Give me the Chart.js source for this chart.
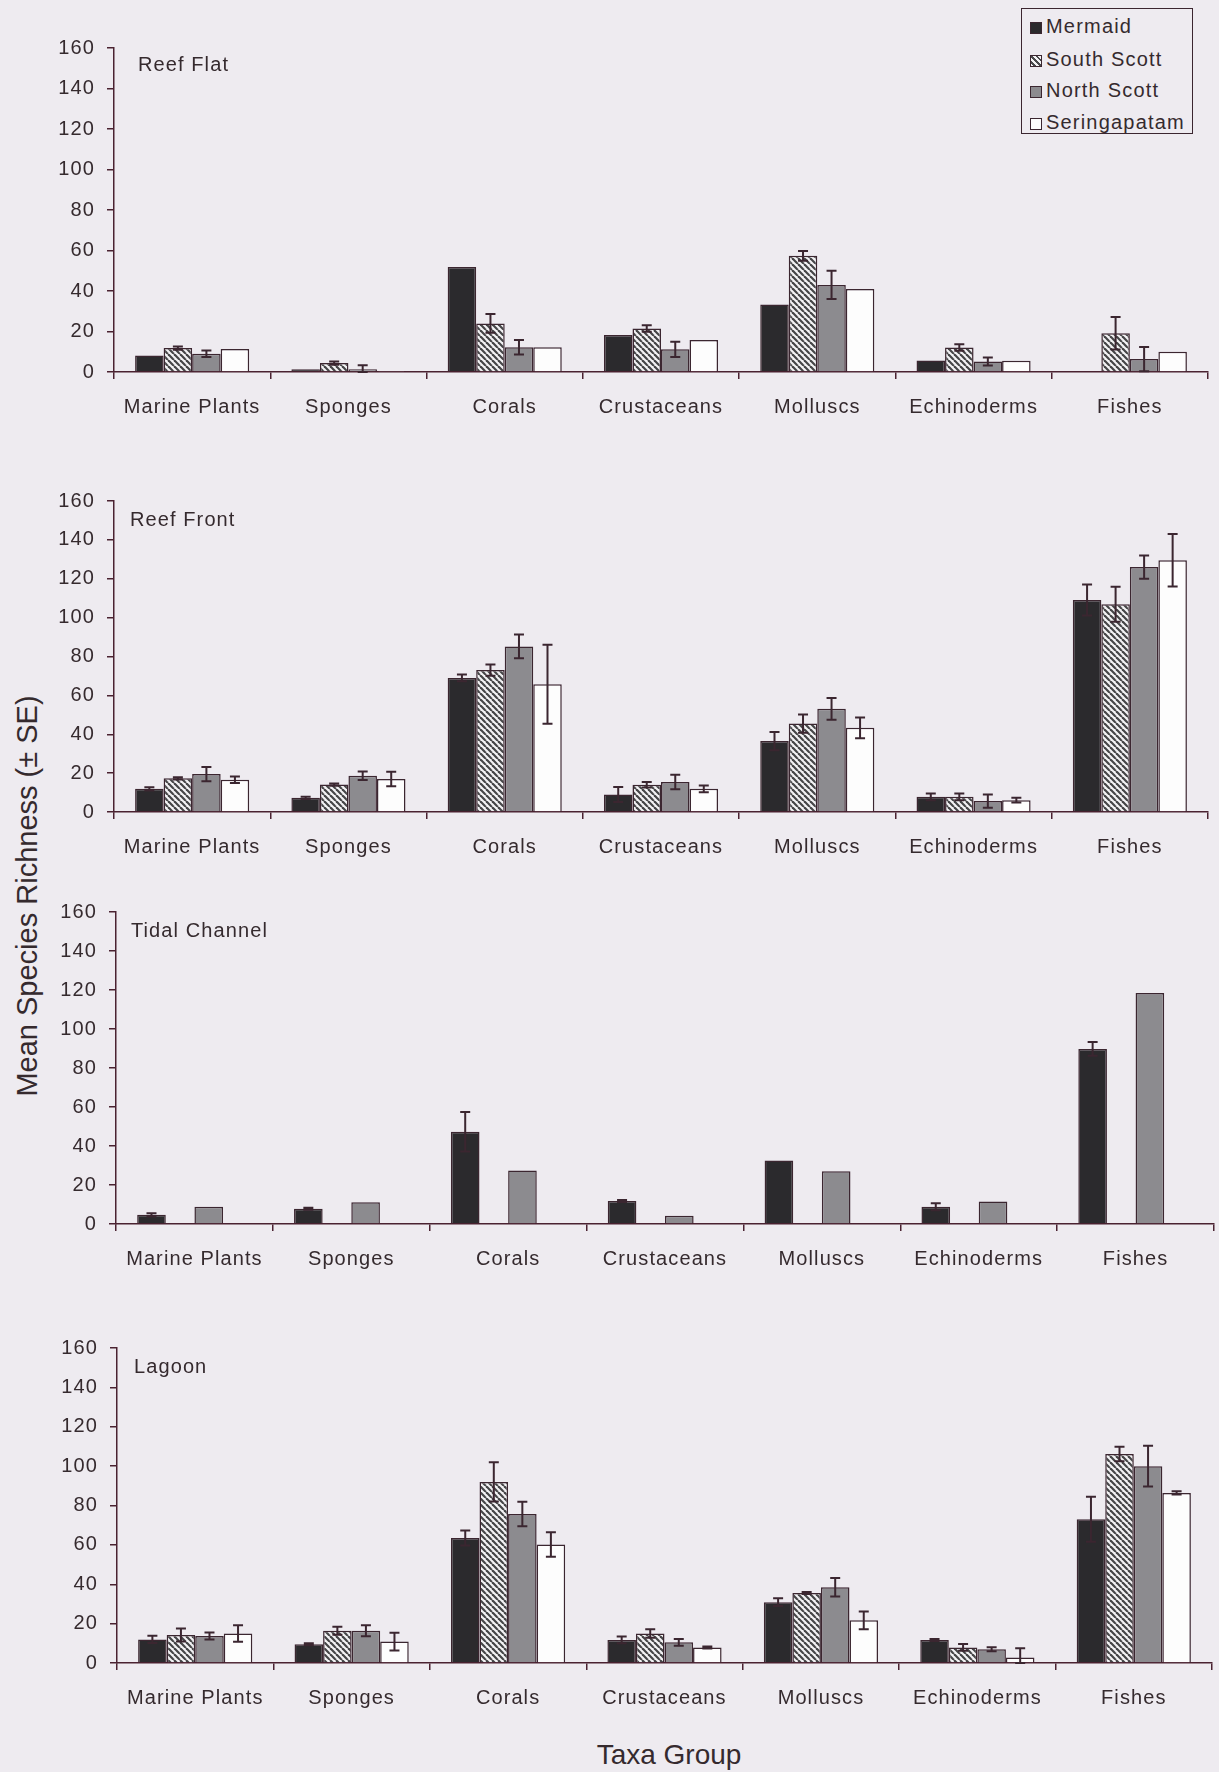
<!DOCTYPE html>
<html>
<head>
<meta charset="utf-8">
<script src="https://cdn.jsdelivr.net/npm/chart.js@4.4.1/dist/chart.umd.min.js"></script>
<style>
  html, body { margin: 0; padding: 0; background: #eeebf0; }
  body { width: 1219px; height: 1772px; position: relative; overflow: hidden;
         font-family: "Liberation Sans", Arial, sans-serif; color: #352a2e; }
  canvas.panel { position: absolute; left: 0; }
  #legend { position: absolute; left: 1021px; top: 8px; width: 172px; height: 126px;
            border: 1.5px solid #3b2630; box-sizing: border-box; }
  .item { position: absolute; left: 8px; height: 24px; line-height: 24px; font-size: 20px;
          letter-spacing: 1.2px; white-space: nowrap; }
  .sw { display: inline-block; width: 10px; height: 10px; border: 1.5px solid #3b2630;
        margin-right: 4px; vertical-align: -1px; }
  #xtitle { position: absolute; left: 469px; width: 400px; top: 1741px; text-align: center;
            font-size: 28px; line-height: 28px; }
  #ytitle { position: absolute; left: 27px; top: 896px; width: 460px; text-align: center;
            font-size: 29px; line-height: 29px; white-space: nowrap;
            transform: translate(-50%, -50%) rotate(-90deg); }
</style>
</head>
<body>
<div id="legend">
  <div class="item" style="top:5px"><span class="sw" style="background:#2b2a2d"></span>Mermaid</div>
  <div class="item" style="top:38px"><span class="sw" style="background:repeating-linear-gradient(45deg,#f4f3f5 0 2px,#4a4a4c 2px 4px)"></span>South Scott</div>
  <div class="item" style="top:69px"><span class="sw" style="background:#8c8b8f"></span>North Scott</div>
  <div class="item" style="top:101px"><span class="sw" style="background:#fdfdfd"></span>Seringapatam</div>
</div>
<div id="xtitle">Taxa Group</div>
<div id="ytitle">Mean Species Richness (± SE)</div>

<script>
// Taxa groups on the category axis, survey sites as grouped bars
const taxa = ['Marine Plants', 'Sponges', 'Corals', 'Crustaceans', 'Molluscs', 'Echinoderms', 'Fishes'];
const sites = ['Mermaid', 'South Scott', 'North Scott', 'Seringapatam'];
const habitats = ['Reef Flat', 'Reef Front', 'Tidal Channel', 'Lagoon'];
const yMin = 0, yMax = 160, yStep = 20;

// Reef Flat: mean species richness and standard error per site
const flatMermaid       = [8.2, 1.3, 51.9, 18.3, 33.3, 5.7, null];
const flatMermaidSE     = [null, null, null, null, null, null, null];
const flatSouthScott    = [11.8, 4.4, 24.0, 21.5, 57.4, 12.1, 19.1];
const flatSouthScottSE  = [0.8, 0.8, 4.6, 1.6, 2.4, 1.6, 8.0];
const flatNorthScott    = [9.0, 1.3, 12.2, 11.2, 43.0, 5.2, 6.4];
const flatNorthScottSE  = [1.6, 2.0, 3.6, 3.8, 7.0, 2.0, 6.0];
const flatSeringapatam  = [11.4, 0.5, 12.2, 15.8, 41.0, 5.5, 10.0];
const flatSeringapatamSE = [null, null, null, null, null, null, null];

// Reef Front
const frontMermaid       = [11.9, 7.3, 69.0, 9.0, 36.5, 7.8, 109.1];
const frontMermaidSE     = [0.8, 0.6, 1.7, 3.9, 4.7, 1.7, 8.0];
const frontSouthScott    = [17.3, 14.1, 73.0, 14.0, 45.5, 7.8, 106.9];
const frontSouthScottSE  = [0.6, 0.6, 2.9, 1.4, 4.7, 1.7, 9.0];
const frontNorthScott    = [19.5, 18.7, 85.2, 15.4, 53.1, 5.6, 126.0];
const frontNorthScottSE  = [3.7, 2.2, 6.1, 3.7, 5.6, 3.4, 6.0];
const frontSeringapatam  = [16.6, 17.0, 65.7, 11.9, 43.3, 6.1, 129.5];
const frontSeringapatamSE = [1.7, 3.7, 20.3, 1.7, 5.3, 1.2, 13.5];

// Tidal Channel (only Mermaid and North Scott were sampled)
const channelMermaid       = [4.7, 7.8, 47.3, 11.8, 32.6, 8.8, 89.8];
const channelMermaidSE     = [0.8, 0.5, 10.1, 0.5, null, 1.8, 3.5];
const channelSouthScott    = [null, null, null, null, null, null, null];
const channelSouthScottSE  = [null, null, null, null, null, null, null];
const channelNorthScott    = [8.9, 11.1, 27.5, 4.2, 27.0, 11.5, 118.5];
const channelNorthScottSE  = [null, null, null, null, null, null, null];
const channelSeringapatam  = [null, null, null, null, null, null, null];
const channelSeringapatamSE = [null, null, null, null, null, null, null];

// Lagoon
const lagoonMermaid       = [12.0, 9.5, 63.5, 11.7, 30.9, 11.7, 73.0];
const lagoonMermaidSE     = [1.8, 0.5, 3.8, 1.7, 2.0, 0.5, 11.4];
const lagoonSouthScott    = [14.2, 16.4, 92.0, 15.0, 35.6, 7.9, 106.2];
const lagoonSouthScottSE  = [3.3, 2.0, 10.0, 2.2, 0.5, 1.7, 3.7];
const lagoonNorthScott    = [13.7, 16.4, 75.7, 10.5, 38.5, 7.0, 100.0];
const lagoonNorthScottSE  = [1.8, 2.8, 6.2, 1.7, 4.7, 1.0, 10.4];
const lagoonSeringapatam  = [15.0, 10.9, 60.2, 7.9, 21.7, 2.8, 86.4];
const lagoonSeringapatamSE = [4.2, 4.5, 6.2, 0.5, 4.5, 4.7, 0.8];

const habitatMeans = [
  [flatMermaid, flatSouthScott, flatNorthScott, flatSeringapatam],
  [frontMermaid, frontSouthScott, frontNorthScott, frontSeringapatam],
  [channelMermaid, channelSouthScott, channelNorthScott, channelSeringapatam],
  [lagoonMermaid, lagoonSouthScott, lagoonNorthScott, lagoonSeringapatam]
];
const habitatSE = [
  [flatMermaidSE, flatSouthScottSE, flatNorthScottSE, flatSeringapatamSE],
  [frontMermaidSE, frontSouthScottSE, frontNorthScottSE, frontSeringapatamSE],
  [channelMermaidSE, channelSouthScottSE, channelNorthScottSE, channelSeringapatamSE],
  [lagoonMermaidSE, lagoonSouthScottSE, lagoonNorthScottSE, lagoonSeringapatamSE]
];

// ---- styling and layout ----
const INK = '#352a2e';
const AXIS = '#4a2231';
const FONT = '"Liberation Sans", Arial, sans-serif';
const PAGE_W = 1219;
const TICK_FONT = 20;

// plot-area frames: top of the 160 line, zero line, left and right axis ends,
// and the offset of the habitat name from the plot corner
const frames = [
  { top: 44,   zero: 372,  left: 114, right: 1208, label: [24, 23] },
  { top: 497,  zero: 812,  left: 114, right: 1208, label: [16, 25] },
  { top: 908,  zero: 1224, left: 116, right: 1214, label: [15, 25] },
  { top: 1344, zero: 1663, left: 117, right: 1212, label: [17, 25] }
];
const PAD_TOP = 20, XAXIS_H = 62;

function hatchPattern() {
  const s = 6;
  const c = document.createElement('canvas');
  c.width = s; c.height = s;
  const g = c.getContext('2d');
  g.fillStyle = '#f4f3f5';
  g.fillRect(0, 0, s, s);
  g.strokeStyle = '#454547';
  g.lineWidth = 2.2;
  for (let k = -1; k <= 1; k++) {
    g.beginPath();
    g.moveTo(k * s, 0);
    g.lineTo(k * s + s, s);
    g.stroke();
  }
  return g.createPattern(c, 'repeat');
}
const HATCH = hatchPattern();
const fills = ['#2b2a2d', HATCH, '#8c8b8f', '#fdfdfd'];

// draws the ± SE whiskers from the bar elements and the value scale
const errorBars = {
  id: 'errorBars',
  afterDatasetsDraw(chart) {
    const ctx = chart.ctx;
    const ys = chart.scales.y;
    ctx.save();
    ctx.strokeStyle = '#3b2630';
    ctx.lineWidth = 2;
    chart.data.datasets.forEach((ds, i) => {
      const meta = chart.getDatasetMeta(i);
      meta.data.forEach((bar, j) => {
        const v = ds.data[j], e = ds.errors[j];
        if (v == null || e == null) return;
        const yt = ys.getPixelForValue(v + e);
        const yb = ys.getPixelForValue(Math.max(0, v - e));
        const cap = 5;
        ctx.beginPath();
        ctx.moveTo(bar.x, yt); ctx.lineTo(bar.x, yb);
        ctx.moveTo(bar.x - cap, yt); ctx.lineTo(bar.x + cap, yt);
        ctx.moveTo(bar.x - cap, yb); ctx.lineTo(bar.x + cap, yb);
        ctx.stroke();
      });
    });
    ctx.restore();
  }
};

// habitat name written inside the plot area
const habitatLabel = {
  id: 'habitatLabel',
  beforeDraw(chart) { chart.ctx.letterSpacing = '1.1px'; },
  afterDraw(chart, args, opts) {
    const ctx = chart.ctx;
    ctx.save();
    ctx.letterSpacing = '1.1px';
    ctx.font = TICK_FONT + 'px ' + FONT;
    ctx.fillStyle = INK;
    ctx.textBaseline = 'alphabetic';
    ctx.fillText(opts.text, chart.chartArea.left + opts.dx, chart.chartArea.top + opts.dy);
    ctx.restore();
  }
};

habitats.forEach((name, p) => {
  const f = frames[p];
  const canvas = document.createElement('canvas');
  canvas.className = 'panel';
  const h = (f.zero - f.top) + PAD_TOP + XAXIS_H;
  canvas.width = PAGE_W; canvas.height = h;
  canvas.style.top = (f.top - PAD_TOP) + 'px';
  canvas.style.width = PAGE_W + 'px'; canvas.style.height = h + 'px';
  document.body.appendChild(canvas);

  const datasets = sites.map((site, s) => ({
    label: site,
    data: habitatMeans[p][s],
    errors: habitatSE[p][s],
    backgroundColor: fills[s],
    borderColor: '#3b2630',
    borderWidth: 1.5,
    categoryPercentage: 0.73,
    barPercentage: 1.0
  }));

  new Chart(canvas, {
    type: 'bar',
    data: { labels: taxa, datasets },
    plugins: [errorBars, habitatLabel],
    options: {
      responsive: false,
      animation: false,
      devicePixelRatio: 1,
      layout: { padding: { top: PAD_TOP, left: 0, right: PAGE_W - f.right, bottom: 0 } },
      plugins: {
        legend: { display: false },
        tooltip: { enabled: false },
        habitatLabel: { text: name, dx: f.label[0], dy: f.label[1] }
      },
      scales: {
        x: {
          offset: true,
          grid: { offset: true, drawOnChartArea: false, drawTicks: true, tickLength: 7,
                  color: AXIS, tickColor: AXIS, lineWidth: 1.5 },
          border: { color: AXIS, width: 1.5 },
          ticks: { color: INK, font: { family: FONT, size: TICK_FONT }, padding: 16,
                   autoSkip: false, maxRotation: 0 },
          afterFit(scale) { scale.height = XAXIS_H; }
        },
        y: {
          min: yMin, max: yMax,
          grid: { drawOnChartArea: false, drawTicks: true, tickLength: 7,
                  color: AXIS, tickColor: AXIS, lineWidth: 1.5 },
          border: { color: AXIS, width: 1.5 },
          ticks: { stepSize: yStep, color: INK, font: { family: FONT, size: TICK_FONT }, padding: 12 },
          afterFit(scale) { scale.width = f.left; }
        }
      }
    }
  });
});
</script>
</body>
</html>
